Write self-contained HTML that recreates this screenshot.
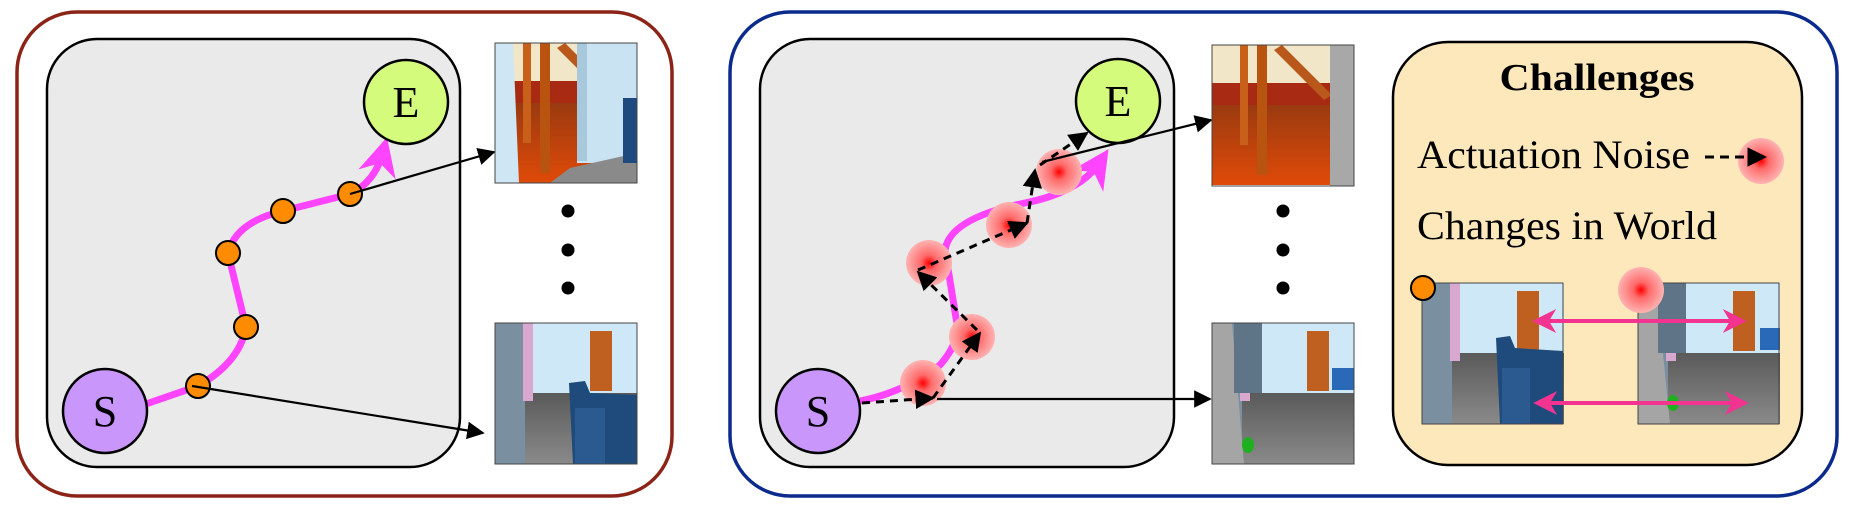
<!DOCTYPE html>
<html><head><meta charset="utf-8"><style>
html,body{margin:0;padding:0;background:#fff;}
svg{display:block;}
svg text{font-family:"Liberation Serif","Times New Roman",serif;}
</style></head><body>
<svg width="1851" height="508" viewBox="0 0 1851 508" xmlns="http://www.w3.org/2000/svg">
<defs>
<radialGradient id="blob" cx="50%" cy="50%" r="50%">
<stop offset="0" stop-color="#ff0000"/><stop offset="0.35" stop-color="#ff6a6a"/><stop offset="1" stop-color="#ffb3b3"/>
</radialGradient>
<linearGradient id="floorOr" x1="0" y1="0" x2="0" y2="1"><stop offset="0" stop-color="#9a3a10"/><stop offset="1" stop-color="#e04a08"/></linearGradient>
<linearGradient id="floorGr" x1="0" y1="0" x2="0" y2="1"><stop offset="0" stop-color="#5a5a5a"/><stop offset="1" stop-color="#8a8a8a"/></linearGradient>
<marker id="ah" viewBox="0 0 10 10" refX="9" refY="5" markerWidth="8" markerHeight="8" orient="auto"><path d="M0,0L10,5L0,10z" fill="#000"/></marker>
<marker id="ahd" viewBox="0 0 10 10" refX="9" refY="5" markerWidth="6.5" markerHeight="6.5" orient="auto"><path d="M0,0L10,5L0,10z" fill="#000"/></marker>
<marker id="pk" viewBox="0 0 10 10" refX="8" refY="5" markerWidth="6" markerHeight="6" orient="auto-start-reverse"><path d="M0,0L10,5L0,10L3,5z" fill="#f23390"/></marker>
<marker id="mg" viewBox="0 0 10 10" refX="6" refY="5" markerWidth="5.5" markerHeight="5.5" orient="auto"><path d="M0,0L10,5L0,10L3,5z" fill="#ff44ff"/></marker>

<g id="imgOrange">
<rect width="142" height="140" fill="#c85a1a"/>
<rect width="142" height="55" fill="#f2e6c8"/>
<rect y="38" width="142" height="25" fill="#a82a12"/>
<rect y="60" width="142" height="80" fill="url(#floorOr)"/>
<rect x="28" y="0" width="8" height="100" fill="#c8601a"/>
<rect x="45" y="0" width="10" height="130" fill="#b85410"/>
<path d="M70,0 L120,50 L112,55 L62,5z" fill="#b8581a"/>
</g>
<g id="imgHall">
<rect width="142" height="141" fill="#cfe8f7"/>
<rect y="70" width="142" height="71" fill="url(#floorGr)"/>
<rect x="0" y="0" width="30" height="141" fill="#7a8fa0"/>
<rect x="28" y="0" width="10" height="78" fill="#d9a8d0"/>
<rect x="95" y="8" width="22" height="60" fill="#c06020"/>
</g>
</defs>

<!-- LEFT PANEL -->
<rect x="17" y="12" width="655" height="484" rx="60" fill="#fff" stroke="#8b2416" stroke-width="3.5"/>
<rect x="47" y="39" width="413" height="428" rx="50" fill="#eaeaea" stroke="#000" stroke-width="2.5"/>
<path d="M146,404 L198,386 Q240,362 246,327 L228,253 Q236,222 283,211 L350,194 Q375,182 383,152" fill="none" stroke="#ff44ff" stroke-width="7" marker-end="url(#mg)"/>
<g stroke="#000" stroke-width="2" fill="#ff8c00">
<ellipse cx="198" cy="386" rx="12" ry="12"/><ellipse cx="246" cy="327" rx="12" ry="12"/><ellipse cx="228" cy="253" rx="12" ry="12"/><ellipse cx="283" cy="211" rx="12" ry="12"/><ellipse cx="350" cy="194" rx="12" ry="12"/>
</g>
<circle cx="105" cy="411" r="42" fill="#c996fb" stroke="#000" stroke-width="2.5"/>
<text x="105" y="426" font-size="44" font-family="Liberation Serif, serif" text-anchor="middle">S</text>
<circle cx="406" cy="102" r="42" fill="#d5fb7d" stroke="#000" stroke-width="2.5"/>
<text x="406" y="117" font-size="44" font-family="Liberation Serif, serif" text-anchor="middle">E</text>
<line x1="350" y1="194" x2="494" y2="152" stroke="#000" stroke-width="2.2" marker-end="url(#ah)"/>
<line x1="192" y1="386" x2="483" y2="433" stroke="#000" stroke-width="2.2" marker-end="url(#ah)"/>
<g transform="translate(495,43)">
<use href="#imgOrange"/>
<path d="M0,0 L18,0 L24,140 L0,140z" fill="#cfe6f5"/>
<rect x="82" y="0" width="60" height="120" fill="#c9e3f3"/>
<rect x="82" y="0" width="10" height="118" fill="#a8c8dc"/>
<path d="M75,125 L142,110 L142,140 L55,140z" fill="#8a8a8a"/>
<rect x="128" y="55" width="14" height="65" fill="#1f4a80"/>
<rect width="142" height="140" fill="none" stroke="#444" stroke-width="1"/>
</g>
<g transform="translate(495,323)">
<use href="#imgHall"/>
<path d="M74,60 L90,58 L95,70 L142,72 L142,141 L78,141z" fill="#1e4a7c"/>
<rect x="80" y="85" width="30" height="56" fill="#2a5a90"/>
<rect width="142" height="141" fill="none" stroke="#444" stroke-width="1"/>
</g>
<g fill="#000"><circle cx="568" cy="211" r="6.5"/><circle cx="568" cy="250" r="6.5"/><circle cx="568" cy="288" r="6.5"/></g>

<!-- RIGHT PANEL -->
<rect x="730" y="12" width="1107" height="484" rx="60" fill="#fff" stroke="#0a2a8c" stroke-width="3.5"/>
<rect x="760" y="39" width="414" height="428" rx="50" fill="#eaeaea" stroke="#000" stroke-width="2.5"/>
<path d="M860,401 Q905,392 940,365 Q962,340 956,318 L945,250 Q950,218 1025,203 Q1080,192 1100,162" fill="none" stroke="#ff44ff" stroke-width="7" marker-end="url(#mg)"/>
<g fill="url(#blob)">
<circle cx="923" cy="383" r="23"/><circle cx="972" cy="337" r="23"/><circle cx="929" cy="263" r="23"/><circle cx="1009" cy="225" r="23"/><circle cx="1059" cy="172" r="23"/>
</g>
<g stroke="#000" stroke-width="3" stroke-dasharray="8,6" fill="none">
<line x1="862" y1="403" x2="933" y2="398" marker-end="url(#ahd)"/>
<line x1="933" y1="398" x2="980" y2="333" marker-end="url(#ahd)"/>
<line x1="977" y1="330" x2="918" y2="272" marker-end="url(#ahd)"/>
<line x1="918" y1="270" x2="1027" y2="223" marker-end="url(#ahd)"/>
<line x1="1027" y1="223" x2="1035" y2="170" marker-end="url(#ahd)"/>
<line x1="1040" y1="165" x2="1087" y2="133" marker-end="url(#ahd)"/>
</g>
<circle cx="818" cy="411" r="42" fill="#c996fb" stroke="#000" stroke-width="2.5"/>
<text x="818" y="426" font-size="44" font-family="Liberation Serif, serif" text-anchor="middle">S</text>
<circle cx="1118" cy="101" r="42" fill="#d5fb7d" stroke="#000" stroke-width="2.5"/>
<text x="1118" y="116" font-size="44" font-family="Liberation Serif, serif" text-anchor="middle">E</text>
<line x1="1042" y1="162" x2="1211" y2="120" stroke="#000" stroke-width="2.2" marker-end="url(#ah)"/>
<line x1="937" y1="399" x2="1210" y2="399" stroke="#000" stroke-width="2.2" marker-end="url(#ah)"/>
<g transform="translate(1212,45)">
<use href="#imgOrange"/>
<rect x="118" y="0" width="24" height="141" fill="#a8a8a8"/>
<rect width="142" height="141" fill="none" stroke="#444" stroke-width="1"/>
</g>
<g transform="translate(1212,323)">
<use href="#imgHall"/>
<path d="M0,0 L20,0 L32,141 L0,141z" fill="#a5a5a5"/>
<rect x="22" y="0" width="28" height="70" fill="#5f7587"/>
<rect x="120" y="45" width="22" height="22" fill="#2a68b8"/>
<ellipse cx="36" cy="122" rx="6" ry="8" fill="#1fb01f"/>
<rect width="142" height="141" fill="none" stroke="#444" stroke-width="1"/>
</g>
<g fill="#000"><circle cx="1283" cy="211" r="6.5"/><circle cx="1283" cy="250" r="6.5"/><circle cx="1283" cy="288" r="6.5"/></g>

<!-- CHALLENGES -->
<rect x="1393" y="42" width="409" height="423" rx="55" fill="#fde8bb" stroke="#000" stroke-width="2.5"/>
<text x="1597" y="90" font-size="38" font-weight="bold" font-family="Liberation Serif, serif" text-anchor="middle" textLength="195" lengthAdjust="spacingAndGlyphs">Challenges</text>
<text x="1417" y="168" font-size="40" font-family="Liberation Serif, serif" textLength="273" lengthAdjust="spacingAndGlyphs">Actuation Noise</text>
<circle cx="1761" cy="161" r="23" fill="url(#blob)"/>
<line x1="1705" y1="157" x2="1765" y2="157" stroke="#000" stroke-width="3" stroke-dasharray="9,6" marker-end="url(#ahd)"/>
<text x="1417" y="239" font-size="40" font-family="Liberation Serif, serif" textLength="300" lengthAdjust="spacingAndGlyphs">Changes in World</text>
<g transform="translate(1422,283)">
<use href="#imgHall"/>
<path d="M74,55 L88,53 L93,65 L141,68 L141,141 L78,141z" fill="#1e4a7c"/>
<rect x="80" y="85" width="28" height="56" fill="#2a5a90"/>
<rect width="141" height="141" fill="none" stroke="#444" stroke-width="1"/>
</g>
<g transform="translate(1638,283)">
<use href="#imgHall"/>
<path d="M0,0 L18,0 L32,141 L0,141z" fill="#a5a5a5"/>
<rect x="20" y="0" width="28" height="70" fill="#5f7587"/>
<rect x="122" y="45" width="20" height="22" fill="#2a68b8"/>
<ellipse cx="35" cy="120" rx="6" ry="8" fill="#1fb01f"/>
<rect width="141" height="141" fill="none" stroke="#444" stroke-width="1"/>
</g>
<circle cx="1423" cy="288" r="12" fill="#ff8c00" stroke="#000" stroke-width="2"/>
<circle cx="1641" cy="290" r="23" fill="url(#blob)"/>
<line x1="1537" y1="321" x2="1742" y2="321" stroke="#f23390" stroke-width="4" marker-start="url(#pk)" marker-end="url(#pk)"/>
<line x1="1538" y1="403" x2="1744" y2="403" stroke="#f23390" stroke-width="4" marker-start="url(#pk)" marker-end="url(#pk)"/>
</svg>
</body></html>
